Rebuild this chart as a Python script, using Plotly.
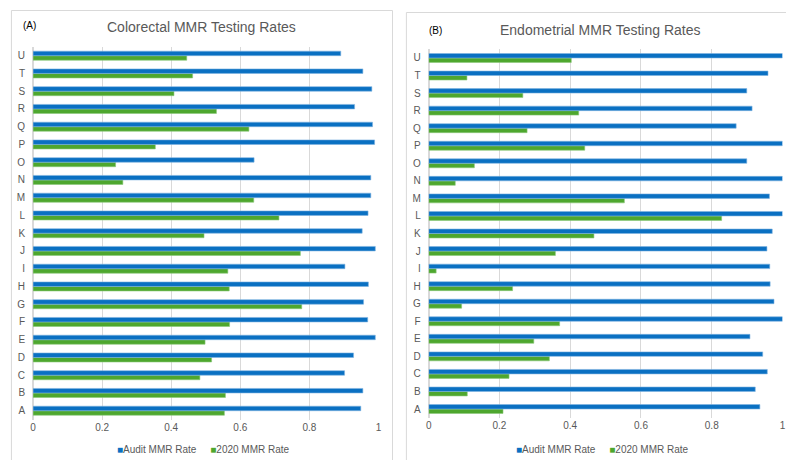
import plotly.graph_objects as go

categories = list("ABCDEFGHIJKLMNOPQRSTU")

colo_audit = [0.949, 0.955, 0.902, 0.928, 0.991, 0.969, 0.957, 0.971, 0.903, 0.991, 0.953,
              0.970, 0.978, 0.978, 0.640, 0.989, 0.983, 0.931, 0.981, 0.955, 0.891]
colo_2020 = [0.554, 0.557, 0.483, 0.517, 0.498, 0.569, 0.778, 0.568, 0.564, 0.774, 0.495,
             0.712, 0.639, 0.260, 0.239, 0.354, 0.625, 0.531, 0.408, 0.462, 0.445]

endo_audit = [0.936, 0.923, 0.957, 0.944, 0.908, 1.000, 0.976, 0.965, 0.964, 0.956, 0.971,
              1.000, 0.963, 1.000, 0.899, 1.000, 0.869, 0.914, 0.899, 0.959, 1.000]
endo_2020 = [0.210, 0.109, 0.227, 0.341, 0.297, 0.370, 0.093, 0.237, 0.021, 0.358, 0.467,
             0.828, 0.553, 0.075, 0.129, 0.441, 0.278, 0.424, 0.266, 0.108, 0.403]

tick_vals = [0, 0.2, 0.4, 0.6, 0.8, 1]
tick_text = ["0", "0.2", "0.4", "0.6", "0.8", "1"]

BLUE = "#0A70C2"
GREEN = "#4EA72E"
GRAY = "#595959"
FONT = "Liberation Sans, Arial, sans-serif"
W, H = 786, 460

fig = go.Figure()

def add_panel(green_vals, blue_vals, xa, ya):
    fig.add_trace(go.Bar(y=categories, x=green_vals, orientation="h", name="2020 MMR Rate",
                         marker=dict(color=GREEN, line=dict(color="#8cc77a", width=0.6)),
                         xaxis=xa, yaxis=ya, showlegend=False))
    fig.add_trace(go.Bar(y=categories, x=blue_vals, orientation="h", name="Audit MMR Rate",
                         marker=dict(color=BLUE, line=dict(color="#7fb3e0", width=0.6)),
                         xaxis=xa, yaxis=ya, showlegend=False))

add_panel(colo_2020, colo_audit, "x", "y")
add_panel(endo_2020, endo_audit, "x2", "y2")

def px_x(p):
    return p / W

def px_y(p):
    return 1 - p / H

xaxis_common = dict(range=[0, 1], tickvals=tick_vals, ticktext=tick_text, showgrid=True,
                    gridcolor="#d9d9d9", gridwidth=1, zeroline=True, zerolinecolor="#d9d9d9",
                    showline=False, ticks="", tickfont=dict(family=FONT, size=10, color=GRAY),
                    fixedrange=True)
yaxis_common = dict(type="category", categoryorder="array", categoryarray=categories,
                    range=[-0.5, 20.5], showgrid=False, zeroline=False, showline=False, ticks="",
                    tickfont=dict(family=FONT, size=10, color=GRAY), ticklabelstandoff=7)

fig.update_layout(
    width=W, height=H,
    margin=dict(l=0, r=0, t=0, b=0),
    paper_bgcolor="white", plot_bgcolor="white",
    barmode="group", bargap=0.49, bargroupgap=0,
    font=dict(family=FONT, color=GRAY),
    showlegend=False,
    xaxis=dict(domain=[px_x(30.3), px_x(378.3)], anchor="y", **xaxis_common),
    yaxis=dict(domain=[px_y(419.6), px_y(46.8)], anchor="x", **yaxis_common),
    xaxis2=dict(domain=[px_x(429), px_x(785.5)], anchor="y2", **xaxis_common),
    yaxis2=dict(domain=[px_y(417.8), px_y(49.2)], anchor="x2", **yaxis_common),
)

# panel borders
fig.add_shape(type="rect", xref="paper", yref="paper", x0=px_x(8.5), x1=px_x(392.5),
              y0=px_y(470), y1=px_y(10.5), line=dict(color="#d9d9d9", width=1), layer="below")
fig.add_shape(type="rect", xref="paper", yref="paper", x0=px_x(406.5), x1=px_x(800),
              y0=px_y(470), y1=px_y(12.5), line=dict(color="#d9d9d9", width=1), layer="below")

def ann(text, x, y, size, color, xanchor="center"):
    fig.add_annotation(text=text, xref="paper", yref="paper", x=px_x(x), y=px_y(y),
                       xanchor=xanchor, yanchor="middle", showarrow=False,
                       font=dict(family=FONT, size=size, color=color))

ann("Colorectal MMR Testing Rates", 200, 26.5, 14, GRAY)
ann("Endometrial MMR Testing Rates", 602, 29.5, 14, GRAY)
ann("(A)", 26.7, 25.5, 10, "#000000")
ann("(B)", 436, 30.5, 10, "#000000")

legend_txt = (f"<span style='color:{BLUE}'>■</span>Audit MMR Rate"
              f"     <span style='color:{GREEN}'>■</span>2020 MMR Rate")
ann(legend_txt, 202, 449.5, 10, GRAY)
ann(legend_txt, 604, 449, 10, GRAY)

fig.write_html("out.html", config={"displayModeBar": False},
               post_script="document.body.style.margin='0';document.body.style.overflow='hidden';")
